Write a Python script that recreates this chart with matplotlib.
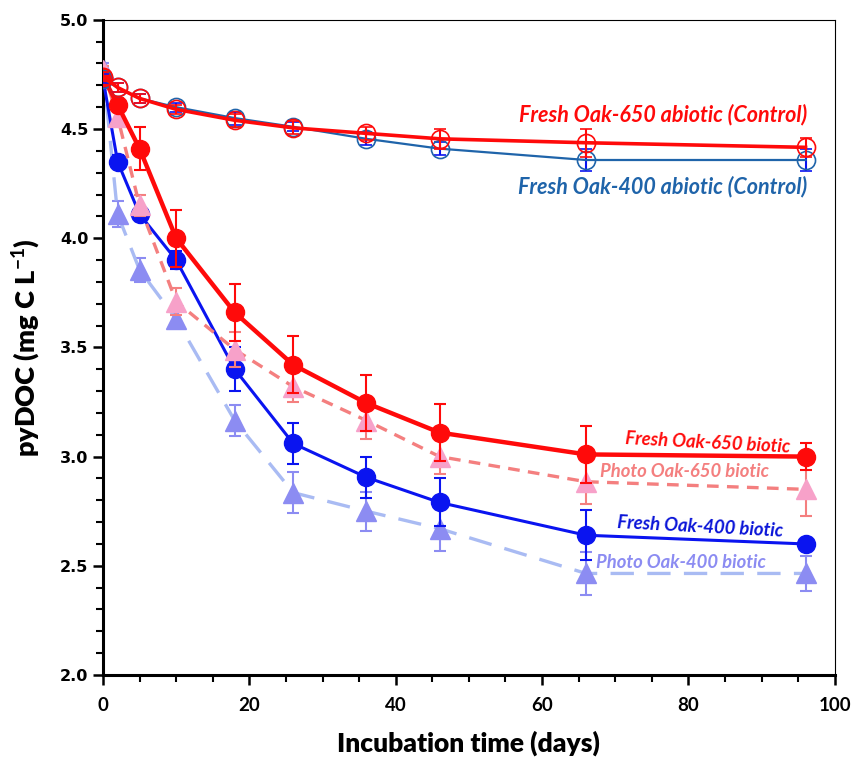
import numpy as np
import matplotlib
matplotlib.use("Agg")
from matplotlib import pyplot as plt
from matplotlib.ticker import MultipleLocator, FormatStrFormatter

plt.rcParams["mathtext.fontset"] = "custom"
plt.rcParams["mathtext.rm"] = "Lato:bold"
plt.rcParams["mathtext.bf"] = "Lato:bold"

days = [0, 2, 5, 10, 18, 26, 36, 46, 66, 96]

fresh650_abiotic = [4.74, 4.69, 4.64, 4.59, 4.54, 4.505, 4.48, 4.455, 4.437, 4.416]
fresh650_abiotic_err = [0.02, 0.02, 0.02, 0.02, 0.03, 0.03, 0.03, 0.045, 0.065, 0.045]
fresh400_abiotic = [4.73, 4.69, 4.64, 4.60, 4.55, 4.51, 4.455, 4.41, 4.358, 4.358]
fresh400_abiotic_err = [0.02, 0.02, 0.02, 0.02, 0.03, 0.02, 0.03, 0.03, 0.05, 0.05]
fresh650_biotic = [4.74, 4.61, 4.41, 4.00, 3.66, 3.42, 3.245, 3.11, 3.01, 3.00]
fresh650_biotic_err = [0.02, 0.03, 0.10, 0.13, 0.13, 0.13, 0.13, 0.13, 0.13, 0.06]
photo650_biotic = [4.77, 4.555, 4.15, 3.71, 3.49, 3.32, 3.165, 3.00, 2.885, 2.85]
photo650_biotic_err = [0.02, 0.03, 0.05, 0.06, 0.08, 0.07, 0.085, 0.08, 0.10, 0.12]
fresh400_biotic = [4.73, 4.35, 4.11, 3.90, 3.40, 3.06, 2.905, 2.79, 2.64, 2.60]
fresh400_biotic_err = [0.02, 0.03, 0.03, 0.04, 0.10, 0.095, 0.095, 0.11, 0.115, 0.01]
photo400_biotic = [4.78, 4.11, 3.855, 3.63, 3.165, 2.835, 2.75, 2.67, 2.465, 2.465]
photo400_biotic_err = [0.02, 0.06, 0.055, 0.04, 0.07, 0.095, 0.09, 0.10, 0.10, 0.08]

fig = plt.figure(figsize=(8.51, 7.61), dpi=100)
ax = fig.add_axes([0.121, 0.113, 0.860, 0.861])

# photo oak-400 biotic
ax.errorbar(days, photo400_biotic, yerr=photo400_biotic_err, color="#A9BBF3", lw=2.4,
            dashes=(7, 4), marker="^", ms=14, mfc="#8C8CF2", mec="#8C8CF2",
            ecolor="#8C8CF2", elinewidth=1.5, capsize=4, capthick=1.5, zorder=2)
# fresh oak-400 biotic
ax.errorbar(days, fresh400_biotic, yerr=fresh400_biotic_err, color="#0A14F0", lw=2.2,
            marker="o", ms=13, mfc="#0A14F0", mec="#0A14F0",
            ecolor="#0A14F0", elinewidth=1.5, capsize=4, capthick=1.5, zorder=3)
# photo oak-650 biotic
ax.errorbar(days, photo650_biotic, yerr=photo650_biotic_err, color="#F47F7F", lw=2.4,
            dashes=(3.5, 2.5), marker="^", ms=14, mfc="#F7A1C9", mec="#F7A1C9",
            ecolor="#F47F7F", elinewidth=1.5, capsize=4, capthick=1.5, zorder=4)
# fresh oak-650 biotic
ax.errorbar(days, fresh650_biotic, yerr=fresh650_biotic_err, color="#FF0A0A", lw=3.2,
            marker="o", ms=13, mfc="#FF0A0A", mec="#FF0A0A",
            ecolor="#FF0A0A", elinewidth=1.5, capsize=4, capthick=1.5, zorder=5)
# abiotic controls
ax.errorbar(days, fresh400_abiotic, yerr=fresh400_abiotic_err, color="#1F64AA", lw=1.6,
            marker="o", ms=13, mfc="none", mec="#1F64AA", mew=1.2,
            ecolor="#0A14F0", elinewidth=1.5, capsize=4, capthick=1.5, zorder=6)
ax.errorbar(days, fresh650_abiotic, yerr=fresh650_abiotic_err, color="#FF0A0A", lw=2.6,
            marker="o", ms=13, mfc="none", mec="#FF0A0A", mew=1.2,
            ecolor="#FF0A0A", elinewidth=1.5, capsize=4, capthick=1.5, zorder=7)

lab = dict(family="Lato", weight="bold", style="italic", ha="center", va="center",
           transform=ax.transAxes)
ax.text(0.766, 0.855, "Fresh Oak-650 abiotic (Control)", color="#FF0A0A", fontsize=15.5, **lab)
ax.text(0.765, 0.745, "Fresh Oak-400 abiotic (Control)", color="#1F64AA", fontsize=15.5, **lab)
ax.text(0.826, 0.354, "Fresh Oak-650 biotic", color="#FF0A0A", fontsize=13.3, rotation=-3, **lab)
ax.text(0.795, 0.310, "Photo Oak-650 biotic", color="#F47F7F", fontsize=13.3, **lab)
ax.text(0.816, 0.226, "Fresh Oak-400 biotic", color="#0A14D8", fontsize=13.3, rotation=-3, **lab)
ax.text(0.790, 0.171, "Photo Oak-400 biotic", color="#8C8CF2", fontsize=13.3, **lab)

ax.set_xlim(0, 100)
ax.set_ylim(2.0, 5.0)
ax.xaxis.set_major_locator(MultipleLocator(20))
ax.xaxis.set_minor_locator(MultipleLocator(5))
ax.yaxis.set_major_locator(MultipleLocator(0.5))
ax.yaxis.set_minor_locator(MultipleLocator(0.1))
ax.yaxis.set_major_formatter(FormatStrFormatter("%.1f"))

for side in ["left", "bottom"]:
    ax.spines[side].set_linewidth(2.2)
for side in ["top", "right"]:
    ax.spines[side].set_linewidth(0.8)
ax.tick_params(axis="both", which="major", direction="out", length=7, width=1.8)
ax.tick_params(axis="both", which="minor", direction="out", length=5, width=1.5)
ax.tick_params(axis="x", which="major", pad=9)

for t in ax.get_yticklabels():
    t.set_fontfamily("DejaVu Sans")
    t.set_fontweight("bold")
    t.set_fontsize(11.5)
for t in ax.get_xticklabels():
    t.set_fontfamily("Lato")
    t.set_fontweight("bold")
    t.set_fontsize(13.5)

ax.set_xlabel("Incubation time (days)", family="Lato", weight="heavy", fontsize=19, labelpad=12)
ax.set_ylabel(r"pyDOC (mg C L$^{\mathbf{-1}}$)", family="Lato", weight="heavy",
              fontsize=19.5, labelpad=12)

fig.savefig("out.png", dpi=100)
